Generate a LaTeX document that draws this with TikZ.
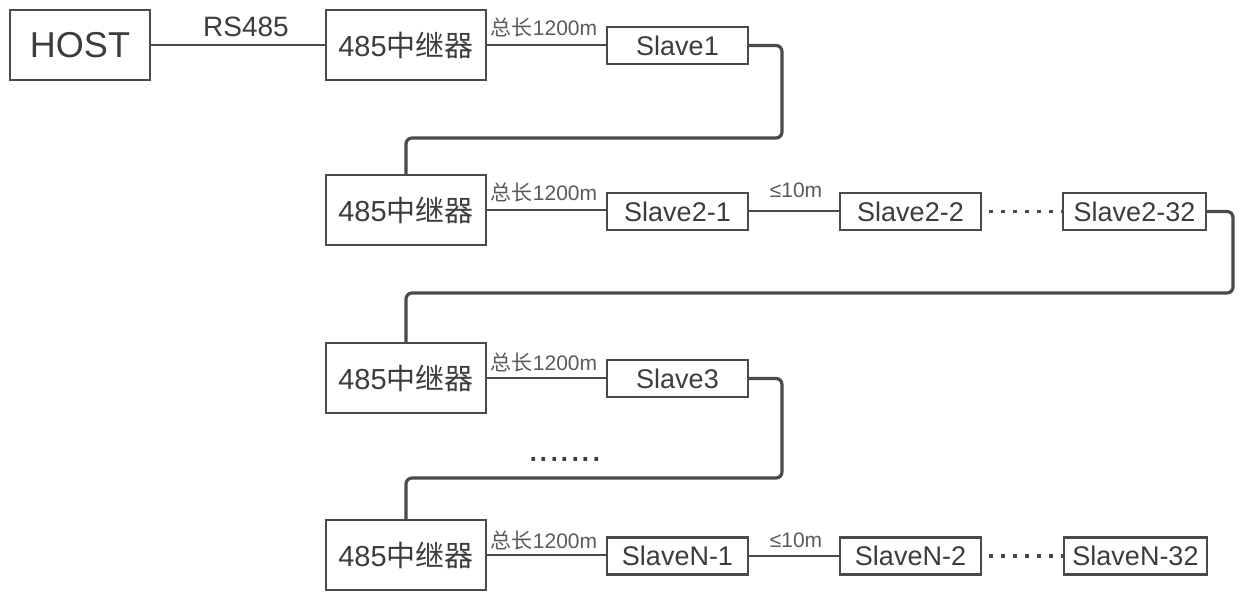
\documentclass[tikz,border=0pt]{standalone}
\usepackage{fontspec}
\setmainfont{Liberation Sans}
\newfontfamily\cjk{Noto Sans CJK SC}
\usetikzlibrary{calc}
\definecolor{ln}{HTML}{4A4A4A}
\definecolor{tx}{HTML}{3C3C3C}
\definecolor{lt}{HTML}{5A5A5A}
\tikzset{
 box/.style={draw=ln, line width=2.2pt, inner sep=0pt, text=tx, font=\fontsize{27}{27}\selectfont},
 hostbox/.style={box, minimum width=140pt, minimum height=70pt, font=\fontsize{36}{36}\selectfont},
 repbox/.style={box, minimum width=160pt, minimum height=70pt, font=\fontsize{29}{29}\selectfont},
 slavebox/.style={box, minimum width=141pt, minimum height=37pt},
 wire/.style={draw=ln, line width=2pt},
 loopwire/.style={draw=ln, line width=3.2pt, rounded corners=6pt},
 dotwire/.style={draw=ln, line width=3.4pt, dash pattern=on 3.4pt off 8.6pt},
 lab/.style={text=lt, inner sep=1pt, font=\fontsize{21}{21}\selectfont},
 biglab/.style={text=tx, inner sep=1pt, font=\fontsize{28}{28}\selectfont},
}
\newcommand{\rep}{485{\cjk 中继器}}
\newcommand{\tot}{{\cjk 总长}1200m}
\begin{document}
\begin{tikzpicture}[x=1pt,y=-1pt]
\useasboundingbox (0,0) rectangle (1239,593);
% row 1
\node[hostbox] (host) at (80,45) {HOST};
\node[repbox] (r1) at (406,45) {\rep};
\node[slavebox] (s1) at (677.5,45.5) {Slave1};
\node[biglab] (lrs) at (246,27) {RS485};
\node[lab] (l1) at (544,27) {\tot};
\draw[wire] (host.east) -- (r1.west);
\draw[wire] (r1.east) -- (r1.east -| s1.west);
% row 2
\node[repbox] (r2) at (406,210) {\rep};
\node[slavebox] (s21) at (677.5,211.5) {Slave2-1};
\node[slavebox] (s22) at (910.5,211.5) {Slave2-2};
\node[slavebox, minimum width=143pt] (s232) at (1134.5,211.5) {Slave2-32};
\node[lab] (l2) at (544,192) {\tot};
\node[lab] (l2b) at (796,190) {≤10m};
\draw[wire] (r2.east) -- (r2.east -| s21.west);
\draw[wire] (s21.east) -- (s22.west);
\draw[dotwire, shorten <=7pt] (s22.east) -- (s232.west);
% row 3
\node[repbox] (r3) at (406,378) {\rep};
\node[slavebox] (s3) at (677.5,378.5) {Slave3};
\node[lab] (l3) at (544,362) {\tot};
\draw[wire] (r3.east) -- (r3.east -| s3.west);
\node[text=tx, inner sep=0pt, font=\fontsize{38}{38}\selectfont] (mid) at (565,459) {.\hspace{0pt}.\hspace{0pt}.\hspace{0pt}.\hspace{0pt}.\hspace{0pt}.\hspace{0pt}.};
% row 4
\node[repbox] (r4) at (406,555) {\rep};
\node[slavebox] (sn1) at (677.5,556) {SlaveN-1};
\node[slavebox] (sn2) at (910.5,556) {SlaveN-2};
\node[slavebox, minimum width=143pt] (sn32) at (1135.5,556) {SlaveN-32};
\node[lab] (l4) at (544,540) {\tot};
\node[lab] (l4b) at (796,540) {≤10m};
\draw[wire] (r4.east) -- (r4.east -| sn1.west);
\draw[wire] (sn1.east) -- (sn2.west);
\draw[dotwire, shorten <=7pt] (sn2.east) -- (sn32.west);
% loops
\coordinate (k1) at (782,138);
\coordinate (k2) at (1233,293);
\coordinate (k3) at (782,478);
\draw[loopwire] (s1.east) -| (k1) -| (r2.north);
\draw[loopwire] (s232.east) -| (k2) -| (r3.north);
\draw[loopwire] (s3.east) -| (k3) -| (r4.north);
\end{tikzpicture}
\end{document}
